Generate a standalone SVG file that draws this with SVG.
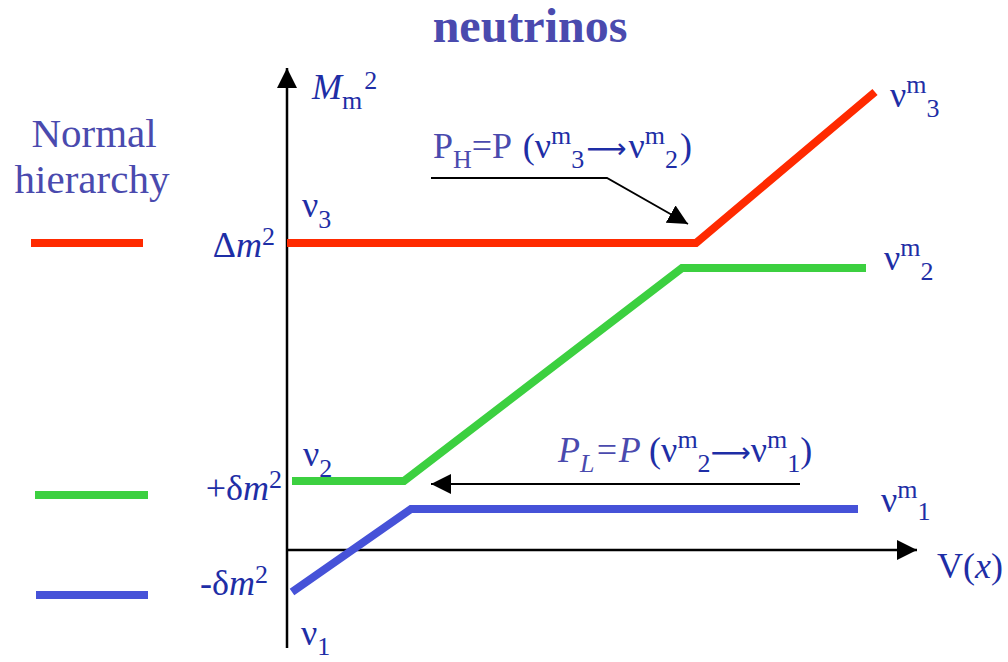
<svg xmlns="http://www.w3.org/2000/svg" width="1008" height="662" viewBox="0 0 1008 662">
<style>
  text { font-family: "Liberation Serif", "Times New Roman", serif; }
  .lbl { fill: #1e2ea6; font-size: 36px; }
  .lt { fill: #4a4aae; }
  .sm { font-size: 26px; }
  .it { font-style: italic; }
  .arr { font-family: "DejaVu Sans", sans-serif; font-size: 28px; }
  .ax { stroke: #000; stroke-width: 2.5; fill: none; }
  .ann { stroke: #000; stroke-width: 1.8; fill: none; }
  .red { stroke: #ff2a00; stroke-width: 8; fill: none; }
  .grn { stroke: #3cd040; stroke-width: 8; fill: none; }
  .blu { stroke: #4652d8; stroke-width: 8; fill: none; }
</style>
<defs>
  <marker id="ah" viewBox="0 0 20 20" refX="20" refY="10" markerWidth="20" markerHeight="20" markerUnits="userSpaceOnUse" orient="auto">
    <path d="M0,0 L20,10 L0,20 Z" fill="#000"/>
  </marker>
</defs>
<rect width="1008" height="662" fill="#fff"/>

<g id="title">
  <text x="530" y="42" text-anchor="middle" font-size="48" font-weight="bold" fill="#4a4aae">neutrinos</text>
</g>

<g id="legend">
  <text x="94" y="147" text-anchor="middle" font-size="41" class="lt">Normal</text>
  <text x="92" y="193" text-anchor="middle" font-size="41" class="lt">hierarchy</text>
  <line x1="31" y1="243" x2="143" y2="243" class="red"/>
  <line x1="35" y1="495" x2="148" y2="495" class="grn"/>
  <line x1="36" y1="595" x2="148" y2="595" class="blu"/>
</g>

<g id="connectors">
  <line x1="287" y1="648" x2="287" y2="68" class="ax" marker-end="url(#ah)"/>
  <line x1="287" y1="550" x2="917" y2="550" class="ax" marker-end="url(#ah)"/>
  <polyline points="431,178 607,178 688,224" class="ann" marker-end="url(#ah)"/>
  <line x1="800" y1="484" x2="431" y2="484" class="ann" marker-end="url(#ah)"/>
</g>

<g id="level-nu3">
  <polyline points="287,243 696,243 875,92" class="red"/>
</g>
<g id="level-nu2">
  <polyline points="292,481 404,481 682,268 866,268" class="grn"/>
</g>
<g id="level-nu1">
  <polyline points="292,592 411,509 858,509" class="blu"/>
</g>

<g id="axis-labels">
  <text x="312" y="99" class="lbl"><tspan class="it">M</tspan><tspan class="sm" dy="10">m</tspan><tspan class="sm" dy="-20" dx="2">2</tspan></text>
  <text x="275" y="257" text-anchor="end" class="lbl">Δ<tspan class="it">m</tspan><tspan class="sm" dy="-12">2</tspan></text>
  <text x="282" y="500" text-anchor="end" class="lbl">+δ<tspan class="it">m</tspan><tspan class="sm" dy="-12">2</tspan></text>
  <text x="268" y="595" text-anchor="end" class="lbl">-δ<tspan class="it">m</tspan><tspan class="sm" dy="-12">2</tspan></text>
  <text x="937" y="578" class="lbl">V(<tspan class="it">x</tspan>)</text>
</g>

<g id="state-labels">
  <text x="302" y="217" class="lbl">ν<tspan class="sm" dy="11">3</tspan></text>
  <text x="303" y="466" class="lbl">ν<tspan class="sm" dy="11">2</tspan></text>
  <text x="301" y="645" class="lbl">ν<tspan class="sm" dy="10">1</tspan></text>
  <text x="890" y="107" class="lbl">ν<tspan class="sm" dy="-14">m</tspan><tspan class="sm" dy="24">3</tspan></text>
  <text x="884" y="270" class="lbl">ν<tspan class="sm" dy="-14">m</tspan><tspan class="sm" dy="24">2</tspan></text>
  <text x="881" y="512" class="lbl">ν<tspan class="sm" dy="-14">m</tspan><tspan class="sm" dy="22">1</tspan></text>
</g>

<g id="annotation-PH">
  <text x="433" y="158" class="lbl"><tspan class="lt">P</tspan><tspan class="lt sm" dy="10">H</tspan><tspan class="lt" dy="-10">=P </tspan><tspan dx="3">(ν</tspan><tspan class="sm" dy="-14">m</tspan><tspan class="sm" dy="24">3</tspan><tspan class="arr" dy="-10" dx="2">⟶</tspan><tspan dx="2">ν</tspan><tspan class="sm" dy="-14">m</tspan><tspan class="sm" dy="24">2</tspan><tspan dy="-10" dx="2">)</tspan></text>
</g>
<g id="annotation-PL">
  <text x="558" y="462" class="lbl"><tspan class="lt it">P</tspan><tspan class="lt it sm" dy="10">L</tspan><tspan class="lt it" dy="-10">=P </tspan>(ν<tspan class="sm" dy="-14">m</tspan><tspan class="sm" dy="24">2</tspan><tspan class="arr" dy="-10">⟶</tspan>ν<tspan class="sm" dy="-14">m</tspan><tspan class="sm" dy="24">1</tspan><tspan dy="-10">)</tspan></text>
</g>
</svg>
